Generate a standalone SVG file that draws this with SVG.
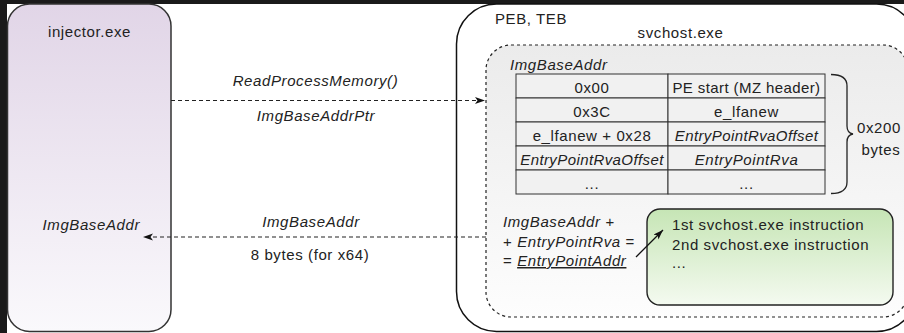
<svg xmlns="http://www.w3.org/2000/svg" width="904" height="333" viewBox="0 0 904 333">
  <style>
    text { font-family: "Liberation Sans", Arial, sans-serif; font-size: 15px; fill: #222; letter-spacing: 0.6px; }
    .it { font-style: italic; }
    .mid { text-anchor: middle; }
    .end { text-anchor: end; }
    .cell { fill: #f1f1f1; stroke: #333; stroke-width: 1; }
    .flow { fill: none; stroke: #222; stroke-width: 1.2; stroke-dasharray: 4 3; }
  </style>
  <defs>
    <linearGradient id="gInjector" x1="0" y1="0" x2="0" y2="1">
      <stop offset="0" stop-color="#e1d5e7"/>
      <stop offset="1" stop-color="#faf9fc"/>
    </linearGradient>
    <linearGradient id="gImage" x1="0" y1="0" x2="0" y2="1">
      <stop offset="0" stop-color="#ebebeb"/>
      <stop offset="1" stop-color="#fdfdfd"/>
    </linearGradient>
    <linearGradient id="gCode" x1="0" y1="0" x2="0" y2="1">
      <stop offset="0" stop-color="#c6e5b5"/>
      <stop offset="1" stop-color="#f4faf0"/>
    </linearGradient>
    <marker id="arrow" markerUnits="userSpaceOnUse" markerWidth="11" markerHeight="8" refX="10" refY="3.5" orient="auto">
      <path d="M0,0 L10,3.5 L0,7 L2.5,3.5 z" fill="#111"/>
    </marker>
  </defs>

  <!-- canvas -->
  <rect x="0" y="0" width="904" height="333" fill="#1a1a1a"/>
  <rect x="7" y="4" width="897" height="329" fill="#ffffff"/>

  <!-- injector process -->
  <g id="injector">
    <rect x="7.5" y="4" width="163.5" height="327.5" rx="22" fill="url(#gInjector)" stroke="#333" stroke-width="1.5"/>
    <text class="mid" x="89.5" y="37">injector.exe</text>
    <text class="it end" x="140" y="230">ImgBaseAddr</text>
  </g>

  <!-- target process -->
  <g id="svchost">
    <rect x="456.5" y="4" width="460" height="327.5" rx="40" fill="#ffffff" stroke="#111" stroke-width="1.5"/>
    <text x="495" y="24">PEB, TEB</text>
    <text class="mid" x="680.5" y="38">svchost.exe</text>
  </g>

  <!-- mapped image -->
  <g id="image">
    <rect x="486" y="45" width="422" height="272" rx="25" fill="url(#gImage)" stroke="#222" stroke-width="1.2" stroke-dasharray="3 3"/>
    <text class="it" x="510" y="70">ImgBaseAddr</text>
  </g>

  <!-- PE header table -->
  <g id="header-table">
    <rect class="cell" x="516" y="74" width="152" height="24"/>
    <rect class="cell" x="668" y="74" width="157" height="24"/>
    <rect class="cell" x="516" y="98" width="152" height="24"/>
    <rect class="cell" x="668" y="98" width="157" height="24"/>
    <rect class="cell" x="516" y="122" width="152" height="24"/>
    <rect class="cell" x="668" y="122" width="157" height="24"/>
    <rect class="cell" x="516" y="146" width="152" height="24"/>
    <rect class="cell" x="668" y="146" width="157" height="24"/>
    <rect class="cell" x="516" y="170" width="152" height="24"/>
    <rect class="cell" x="668" y="170" width="157" height="24"/>
    <text class="mid" x="592" y="93">0x00</text>
    <text class="mid" x="746.5" y="93" style="letter-spacing:0.4px">PE start (MZ header)</text>
    <text class="mid" x="592" y="117">0x3C</text>
    <text class="mid" x="746.5" y="117">e_lfanew</text>
    <text class="mid" x="592" y="141">e_lfanew + 0x28</text>
    <text class="it mid" x="746.5" y="141" style="letter-spacing:0.4px">EntryPointRvaOffset</text>
    <text class="it mid" x="592" y="165" style="letter-spacing:0.4px">EntryPointRvaOffset</text>
    <text class="it mid" x="746.5" y="165">EntryPointRva</text>
    <text class="mid" x="592" y="189">...</text>
    <text class="mid" x="746.5" y="189">...</text>
  </g>

  <!-- header size brace -->
  <g id="header-size">
    <path d="M831,74.5 Q847,74.5 847,86 L847,126 Q847,133 853,134 Q847,135 847,142 L847,182 Q847,193.5 831,193.5" fill="none" stroke="#222" stroke-width="1.3"/>
    <text class="mid" x="879" y="133">0x200</text>
    <text class="mid" x="881" y="155">bytes</text>
  </g>

  <!-- entry point computation -->
  <g id="entry-calc">
    <text class="it" x="503" y="227">ImgBaseAddr +</text>
    <text x="503" y="246.5">+ <tspan class="it">EntryPointRva</tspan> =</text>
    <text x="503" y="266">= <tspan class="it" text-decoration="underline">EntryPointAddr</tspan></text>
  </g>

  <!-- entry point code -->
  <g id="entry-code">
    <rect x="647" y="209" width="246" height="96" rx="13" fill="url(#gCode)" stroke="#222" stroke-width="1.4"/>
    <text x="672" y="230">1st svchost.exe instruction</text>
    <text x="672" y="250">2nd svchost.exe instruction</text>
    <text x="672" y="268">...</text>
  </g>

  <!-- connectors -->
  <g id="connectors">
    <path class="flow" d="M171,100.5 L485,100.5" marker-end="url(#arrow)"/>
    <text class="it mid" x="315.5" y="86">ReadProcessMemory()</text>
    <text class="it mid" x="316" y="120.5">ImgBaseAddrPtr</text>

    <path class="flow" d="M486,237 L143,237" marker-end="url(#arrow)"/>
    <text class="it mid" x="311" y="226.5">ImgBaseAddr</text>
    <text class="mid" x="310" y="260">8 bytes (for x64)</text>

    <path d="M636,257 L663,230" fill="none" stroke="#111" stroke-width="1.3" marker-end="url(#arrow)"/>
  </g>
</svg>
